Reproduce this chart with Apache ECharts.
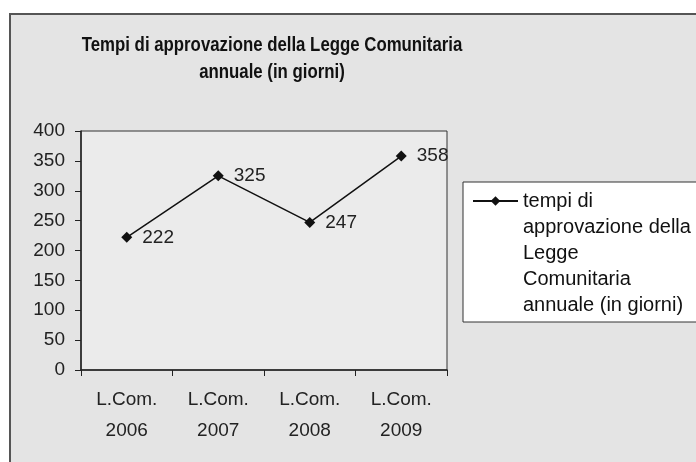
<!DOCTYPE html>
<html>
<head>
<meta charset="utf-8">
<script src="https://cdn.jsdelivr.net/npm/echarts@6/dist/echarts.min.js"></script>
<style>
  html, body { margin: 0; padding: 0; background: #fff; }
  #chart { width: 696px; height: 462px; }
</style>
</head>
<body>
<div id="chart"></div>
<script>
const categories = ["L.Com.\n2006", "L.Com.\n2007", "L.Com.\n2008", "L.Com.\n2009"];
const giorni = [222, 325, 247, 358];
const seriesName = "tempi di approvazione della Legge Comunitaria annuale (in giorni)";
const legendLines = ["tempi di", "approvazione della", "Legge", "Comunitaria", "annuale (in giorni)"];
const titleText = "Tempi di approvazione della Legge Comunitaria\nannuale (in giorni)";

const font = "'Liberation Sans', Arial, sans-serif";

const myChart = echarts.init(document.getElementById("chart"), null, { renderer: "canvas" });

// legend text is centred on the icon, so pad with empty lines above
// to get the first line level with the marker
const legendText = ["", "", "", ""].concat(legendLines).join("\n");

const option = {
  animation: false,
  backgroundColor: "#fff",
  graphic: [
    {
      type: "rect",
      z: -10,
      shape: { x: 10, y: 14, width: 700, height: 460 },
      style: { fill: "#e4e4e4", stroke: "#555", lineWidth: 2 }
    },
    {
      type: "rect",
      z: -5,
      shape: { x: 463, y: 182, width: 240, height: 140 },
      style: { fill: "#fff", stroke: "#333", lineWidth: 1 }
    },
    {
      // chart title, condensed bold like the original
      type: "text",
      x: 272,
      y: 32,
      scaleX: 0.84,
      style: {
        text: titleText,
        font: "bold 20px " + font,
        lineHeight: 27,
        align: "center",
        verticalAlign: "top",
        fill: "#111"
      }
    }
  ],
  legend: {
    left: 472,
    top: 84,
    padding: 0,
    itemWidth: 45,
    itemHeight: 12,
    itemGap: 5,
    data: [seriesName],
    formatter: () => legendText,
    textStyle: {
      fontFamily: font,
      fontSize: 20,
      lineHeight: 26,
      color: "#111"
    }
  },
  grid: {
    left: 81,
    top: 131,
    right: 249,
    bottom: 92,
    show: true,
    backgroundColor: "#ebebeb",
    borderColor: "#333",
    borderWidth: 1
  },
  xAxis: {
    type: "category",
    data: categories,
    boundaryGap: true,
    axisLine: { lineStyle: { color: "#222", width: 1.5 } },
    axisTick: { show: true, length: 6, lineStyle: { color: "#222" } },
    axisLabel: {
      margin: 14,
      fontFamily: font,
      fontSize: 19,
      lineHeight: 31,
      color: "#222"
    },
    splitLine: { show: false }
  },
  yAxis: {
    type: "value",
    min: 0,
    max: 400,
    interval: 50,
    axisLine: { show: true, lineStyle: { color: "#222", width: 1.5 } },
    axisTick: { show: true, length: 6, lineStyle: { color: "#222" } },
    axisLabel: {
      margin: 16,
      fontFamily: font,
      fontSize: 19,
      color: "#222"
    },
    splitLine: { show: false }
  },
  series: [
    {
      name: seriesName,
      type: "line",
      data: giorni,
      symbol: "diamond",
      symbolSize: 11,
      itemStyle: { color: "#111" },
      lineStyle: { color: "#111", width: 1.5 },
      label: {
        show: true,
        position: "right",
        distance: 10,
        fontFamily: font,
        fontSize: 19,
        color: "#222"
      }
    }
  ]
};

myChart.setOption(option);
</script>
</body>
</html>
